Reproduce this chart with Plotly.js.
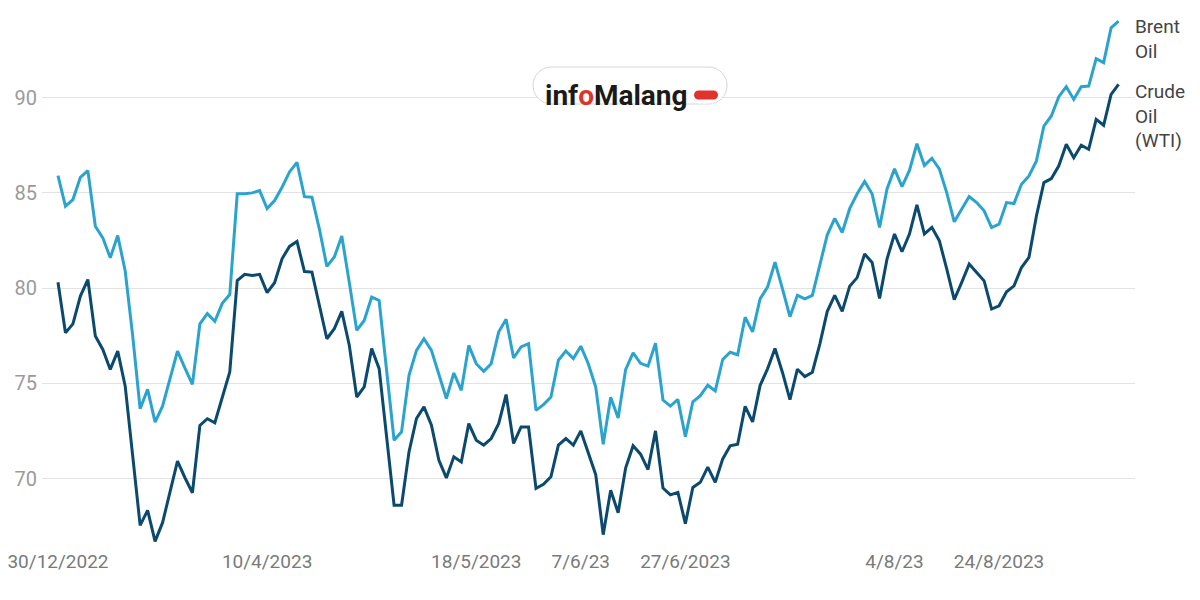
<!DOCTYPE html>
<html>
<head>
<meta charset="utf-8">
<script src="https://cdn.plot.ly/plotly-3.0.1.min.js"></script>
<style>html,body{margin:0;padding:0;background:#fff;}#chart{width:1200px;height:600px;}</style>
</head>
<body>
<div id="chart"></div>
<script>
// Brent Oil price (USD) per observation
const brent = [85.91,84.30,84.65,85.82,86.17,83.25,82.64,81.59,82.76,80.9,
77.5,73.66,74.68,72.96,73.80,75.2,76.69,75.8,74.94,78.12,
78.66,78.26,79.2,79.66,84.95,84.95,85.0,85.12,84.18,84.6,
85.3,86.1,86.6,84.8,84.77,83.1,81.14,81.63,82.73,80.3,
77.78,78.3,79.53,79.35,75.8,72.01,72.45,75.42,76.73,77.34,
76.73,75.51,74.2,75.54,74.63,76.99,76.03,75.63,76.03,77.69,
78.36,76.33,76.91,77.08,73.58,73.88,74.28,76.21,76.7,76.3,
76.95,76.03,74.8,71.8,74.27,73.18,75.72,76.6,76.05,75.9,
77.1,74.12,73.8,74.15,72.2,74.03,74.35,74.9,74.6,76.25,
76.63,76.5,78.47,77.7,79.43,80.05,81.36,79.96,78.5,79.62,
79.44,79.62,81.18,82.8,83.66,82.92,84.17,84.95,85.6,84.95,
83.19,85.21,86.26,85.33,86.18,87.58,86.44,86.82,86.26,85.0,
83.48,84.14,84.81,84.49,84.06,83.18,83.36,84.49,84.44,85.45,
85.89,86.68,88.51,89.04,90.05,90.58,89.91,90.58,90.61,92.05,
91.84,93.67,94.02];

// Crude Oil (WTI) price (USD) per observation
const wti = [80.31,77.65,78.12,79.58,80.45,77.48,76.78,75.73,76.69,74.85,
71.2,67.54,68.33,66.7,67.68,69.25,70.91,70.04,69.25,72.79,
73.14,72.93,74.3,75.6,80.4,80.72,80.66,80.72,79.76,80.28,
81.54,82.19,82.45,80.87,80.84,79.09,77.34,77.87,78.78,77.0,
74.28,74.81,76.82,75.77,72.2,68.6,68.6,71.4,73.15,73.76,
72.8,70.96,70.03,71.14,70.87,72.88,72.01,71.75,72.1,72.88,
74.41,71.84,72.71,72.71,69.48,69.69,70.09,71.75,72.1,71.75,
72.5,71.3,70.2,67.05,69.38,68.2,70.55,71.72,71.28,70.47,
72.5,69.5,69.14,69.27,67.63,69.53,69.8,70.6,69.8,71.03,
71.72,71.8,73.79,72.97,74.88,75.76,76.83,75.57,74.14,75.74,
75.35,75.58,77.06,78.78,79.62,78.78,80.1,80.55,81.79,81.35,
79.46,81.53,82.84,81.91,82.84,84.37,82.84,83.19,82.49,81.0,
79.39,80.3,81.26,80.82,80.38,78.9,79.07,79.81,80.12,81.08,
81.61,83.79,85.54,85.75,86.42,87.55,86.85,87.5,87.29,88.86,
88.55,90.17,90.7];

// x-axis tick positions (observation index) and their labels
const tickIdx = [0, 28, 56, 70, 84, 112, 126];
const tickLabels = ["30/12/2022", "10/4/2023", "18/5/2023", "7/6/23", "27/6/2023", "4/8/23", "24/8/2023"];

const yTicks = [70, 75, 80, 85, 90];
const seriesNames = ["Brent<br>Oil", "Crude<br>Oil<br>(WTI)"];

const idx = brent.map((_, i) => i);
const colBrent = "#2ba3cf";
const colWti = "#0b4a6e";

const traces = [
  {x: idx, y: brent, type: "scatter", mode: "lines", line: {color: colBrent, width: 3}, hoverinfo: "y", showlegend: false},
  {x: idx, y: wti, type: "scatter", mode: "lines", line: {color: colWti, width: 3}, hoverinfo: "y", showlegend: false}
];

function pill(hw, r) {
  const k = 0.5523 * r;
  const w = hw - r;
  return `M ${-w},${-r} L ${w},${-r} C ${w + k},${-r} ${w + r},${-k} ${w + r},0 C ${w + r},${k} ${w + k},${r} ${w},${r} ` +
         `L ${-w},${r} C ${-w - k},${r} ${-w - r},${k} ${-w - r},0 C ${-w - r},${-k} ${-w - k},${-r} ${-w},${-r} Z`;
}

const last = idx.length - 1;
const layout = {
  width: 1200, height: 600,
  margin: {l: 42, r: 65, t: 12, b: 52},
  paper_bgcolor: "#fff", plot_bgcolor: "#fff",
  font: {family: "Roboto, sans-serif", color: "#888"},
  xaxis: {
    range: [-2.14, last + 2.2],
    tickvals: tickIdx, ticktext: tickLabels,
    showgrid: false, zeroline: false, showline: false, ticks: "",
    tickfont: {size: 19, color: "#7a7a7a", family: "Roboto, sans-serif"},
    fixedrange: true
  },
  yaxis: {
    range: [66.35, 94.5],
    tickvals: yTicks,
    showgrid: true, gridcolor: "#e3e3e3", gridwidth: 1,
    zeroline: false, showline: false, ticks: "",
    tickfont: {size: 20, color: "#9a9a9a", family: "Roboto, sans-serif"},
    ticklabelstandoff: 4,
    fixedrange: true
  },
  shapes: [
    {type: "path", xref: "paper", yref: "paper", xsizemode: "pixel", ysizemode: "pixel",
     xanchor: 0.538, yanchor: 0.8629, path: pill(97, 18.5),
     fillcolor: "#ffffff", line: {color: "#d6d6d6", width: 1}, layer: "above"},
    {type: "path", xref: "paper", yref: "paper", xsizemode: "pixel", ysizemode: "pixel",
     xanchor: 0.6075, yanchor: 0.845, path: pill(12, 4.5),
     fillcolor: "#e2332b", line: {width: 0}, layer: "above"}
  ],
  annotations: [
    {x: last, y: brent[last], xref: "x", yref: "y", text: seriesNames[0], showarrow: false,
     xanchor: "left", yanchor: "top", align: "left", xshift: 14, yshift: 8,
     font: {size: 19, color: "#444", family: "Roboto, sans-serif"}},
    {x: last, y: wti[last], xref: "x", yref: "y", text: seriesNames[1], showarrow: false,
     xanchor: "left", yanchor: "top", align: "left", xshift: 14, yshift: 6,
     font: {size: 19, color: "#444", family: "Roboto, sans-serif"}},
    {x: 0.5255, y: 0.879, xref: "paper", yref: "paper", showarrow: false,
     text: "<b>inf<span style='color:#e2332b'>o</span>Malang</b>",
     font: {size: 28, color: "#1a1a1a", family: "Roboto, sans-serif"}},
    {x: 0.6075, y: 0.845, xref: "paper", yref: "paper", showarrow: false,
     text: "com", font: {size: 8, color: "#ffffff", family: "Roboto, sans-serif"}}
  ]
};

Plotly.newPlot("chart", traces, layout, {displayModeBar: false, staticPlot: true});
</script>
</body>
</html>
